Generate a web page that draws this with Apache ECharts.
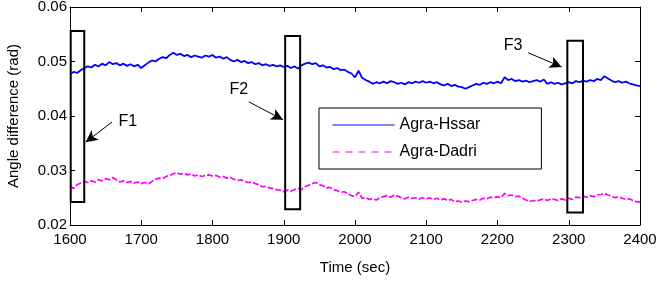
<!DOCTYPE html>
<html>
<head>
<meta charset="utf-8">
<script src="https://cdn.jsdelivr.net/npm/echarts@6/dist/echarts.min.js"></script>
<style>
html, body { margin: 0; padding: 0; background: #fff; }
#main { width: 660px; height: 281px; }
</style>
</head>
<body>
<div id="main"></div>
<script>
// time axis: one sample every 5 s
var timeStart = 1600;
var timeStep = 5;
var xTicks = [1600, 1700, 1800, 1900, 2000, 2100, 2200, 2300, 2400];
var yTicks = [0.02, 0.03, 0.04, 0.05, 0.06];

var agraHssar = [
	0.0476, 0.0481, 0.0479, 0.0484, 0.0488, 0.0491, 0.0489, 0.0494, 0.0491, 0.0496,
	0.0493, 0.0499, 0.0495, 0.0497, 0.0493, 0.0496, 0.0492, 0.0495, 0.0491, 0.0494,
	0.0488, 0.0493, 0.0498, 0.0502, 0.0500, 0.0505, 0.0508, 0.0506, 0.0512, 0.0516,
	0.0512, 0.0514, 0.0510, 0.0512, 0.0508, 0.0511, 0.0509, 0.0507, 0.0511, 0.0509,
	0.0512, 0.0507, 0.0509, 0.0505, 0.0508, 0.0503, 0.0500, 0.0503, 0.0499, 0.0501,
	0.0497, 0.0499, 0.0495, 0.0497, 0.0493, 0.0495, 0.0492, 0.0494, 0.0491, 0.0493,
	0.0490, 0.0492, 0.0488, 0.0491, 0.0487, 0.0493, 0.0496, 0.0498, 0.0495, 0.0497,
	0.0491, 0.0493, 0.0489, 0.0490, 0.0486, 0.0488, 0.0484, 0.0485, 0.0481, 0.0478,
	0.0471, 0.0483, 0.0470, 0.0466, 0.0463, 0.0459, 0.0462, 0.0460, 0.0463, 0.0460,
	0.0464, 0.0462, 0.0459, 0.0461, 0.0458, 0.0462, 0.0460, 0.0463, 0.0461, 0.0464,
	0.0461, 0.0463, 0.0460, 0.0462, 0.0458, 0.0456, 0.0459, 0.0455, 0.0457, 0.0454,
	0.0453, 0.0450, 0.0453, 0.0456, 0.0459, 0.0457, 0.0461, 0.0459, 0.0462, 0.0460,
	0.0463, 0.0460, 0.0471, 0.0466, 0.0468, 0.0464, 0.0466, 0.0463, 0.0465, 0.0462,
	0.0464, 0.0466, 0.0463, 0.0467, 0.0459, 0.0462, 0.0459, 0.0461, 0.0458, 0.0460,
	0.0462, 0.0460, 0.0464, 0.0462, 0.0465, 0.0463, 0.0466, 0.0464, 0.0468, 0.0466,
	0.0473, 0.0469, 0.0465, 0.0462, 0.0464, 0.0461, 0.0463, 0.0460, 0.0458, 0.0456,
	0.0455
];

var agraDadri = [
	0.0272, 0.0267, 0.0274, 0.0277, 0.0280, 0.0278, 0.0281, 0.0279, 0.0283, 0.0281,
	0.0285, 0.0283, 0.0287, 0.0283, 0.0279, 0.0281, 0.0278, 0.0280, 0.0277, 0.0279,
	0.0276, 0.0278, 0.0275, 0.0280, 0.0284, 0.0286, 0.0285, 0.0289, 0.0291, 0.0294,
	0.0296, 0.0293, 0.0295, 0.0292, 0.0294, 0.0290, 0.0292, 0.0289, 0.0291, 0.0292,
	0.0290, 0.0291, 0.0288, 0.0289, 0.0286, 0.0287, 0.0284, 0.0282, 0.0283, 0.0280,
	0.0278, 0.0279, 0.0276, 0.0274, 0.0270, 0.0271, 0.0268, 0.0267, 0.0265, 0.0264,
	0.0261, 0.0264, 0.0262, 0.0265, 0.0267, 0.0265, 0.0270, 0.0273, 0.0276, 0.0278,
	0.0274, 0.0272, 0.0268, 0.0269, 0.0265, 0.0263, 0.0260, 0.0261, 0.0257, 0.0254,
	0.0252, 0.0260, 0.0249, 0.0250, 0.0247, 0.0248, 0.0246, 0.0250, 0.0252, 0.0254,
	0.0251, 0.0255, 0.0253, 0.0250, 0.0248, 0.0251, 0.0249, 0.0250, 0.0248, 0.0250,
	0.0248, 0.0250, 0.0247, 0.0249, 0.0246, 0.0248, 0.0245, 0.0247, 0.0243, 0.0244,
	0.0242, 0.0244, 0.0243, 0.0245, 0.0247, 0.0246, 0.0249, 0.0248, 0.0251, 0.0250,
	0.0252, 0.0250, 0.0258, 0.0254, 0.0255, 0.0252, 0.0253, 0.0249, 0.0246, 0.0243,
	0.0245, 0.0244, 0.0246, 0.0248, 0.0245, 0.0248, 0.0247, 0.0245, 0.0248, 0.0246,
	0.0249, 0.0247, 0.0251, 0.0250, 0.0253, 0.0251, 0.0254, 0.0252, 0.0255, 0.0256,
	0.0258, 0.0255, 0.0253, 0.0250, 0.0252, 0.0249, 0.0247, 0.0248, 0.0245, 0.0243,
	0.0242
];

// fault windows F1..F3
var faultNames = ['F1', 'F2', 'F3'];
var boxStart = [1601, 1902, 2298];
var boxEnd = [1620, 1923, 2320];
var boxLow = [0.0242, 0.0229, 0.0223];
var boxHigh = [0.0556, 0.0547, 0.0538];
// label positions and arrows (tail -> head)
var labelAt = [[1681, 0.0389], [1837, 0.0448], [2222, 0.0530]];
var arrowFrom = [[1659, 0.0389], [1851, 0.0426], [2243, 0.0516]];
var arrowTo = [[1622, 0.0352], [1899, 0.0393], [2290, 0.0490]];

var font = "'Liberation Sans', Arial, sans-serif";

var hssarData = [];
var dadriData = [];
for (var i = 0; i < agraHssar.length; i++) {
	hssarData.push([timeStart + i * timeStep, agraHssar[i]]);
	dadriData.push([timeStart + i * timeStep, agraDadri[i]]);
}

var boxData = [];
for (var k = 0; k < boxStart.length; k++) {
	boxData.push([boxStart[k], boxEnd[k], boxLow[k], boxHigh[k]]);
}

var labelData = [];
var arrowData = [];
for (var k = 0; k < faultNames.length; k++) {
	labelData.push({ name: faultNames[k], value: labelAt[k] });
	arrowData.push([{ coord: arrowFrom[k] }, { coord: arrowTo[k] }]);
}

var myChart = echarts.init(document.getElementById('main'));

var tickAxis = {
	axisLine: { show: true, lineStyle: { color: '#000', width: 1 } },
	axisTick: { show: true, inside: true, length: 5, lineStyle: { color: '#000' } },
	splitLine: { show: false }
};

var option = {
	animation: false,
	backgroundColor: '#fff',
	grid: { left: 70, right: 20, top: 7, bottom: 56, outerBoundsMode: 'none' },
	legend: {
		data: [
			{ name: 'Agra-Hssar', lineStyle: { width: 1, type: 'solid' } },
			{ name: 'Agra-Dadri', lineStyle: { width: 1, type: [7, 6] } }
		],
		orient: 'vertical',
		left: 319,
		top: 108,
		padding: [9, 61, 9, 13],
		itemGap: 11,
		itemWidth: 62,
		itemHeight: 14,
		itemStyle: { opacity: 0 },
		borderColor: '#000',
		borderWidth: 1,
		borderRadius: 0,
		backgroundColor: '#fff',
		textStyle: { color: '#000', fontSize: 16, fontFamily: font }
	},
	xAxis: [
		Object.assign({
			type: 'value',
			min: 1600,
			max: 2400,
			interval: 100,
			name: 'Time (sec)',
			nameLocation: 'middle',
			nameGap: 35,
			nameTextStyle: { color: '#000', fontSize: 15, fontFamily: font },
			axisLabel: {
				color: '#000', fontSize: 15, fontFamily: font, margin: 7,
				formatter: function(v) { return String(v); }
			}
		}, tickAxis),
		Object.assign({
			type: 'value',
			position: 'top',
			min: 1600,
			max: 2400,
			interval: 100,
			axisLabel: { show: false }
		}, tickAxis)
	],
	yAxis: [
		Object.assign({
			type: 'value',
			min: 0.02,
			max: 0.06,
			interval: 0.01,
			name: 'Angle difference (rad)',
			nameLocation: 'middle',
			nameGap: 49,
			nameTextStyle: { color: '#000', fontSize: 15, fontFamily: font },
			axisLabel: {
				color: '#000', fontSize: 15, fontFamily: font, margin: 3,
				formatter: function(v) { return v.toFixed(2); }
			}
		}, tickAxis),
		Object.assign({
			type: 'value',
			position: 'right',
			min: 0.02,
			max: 0.06,
			interval: 0.01,
			axisLabel: { show: false }
		}, tickAxis)
	],
	series: [{
		name: 'Agra-Hssar',
		type: 'line',
		data: hssarData,
		showSymbol: false,
		symbol: 'none',
		lineStyle: { color: '#0000ff', width: 1.8 },
		itemStyle: { color: '#0000ff' },
		z: 3
	}, {
		name: 'Agra-Dadri',
		type: 'line',
		data: dadriData,
		showSymbol: false,
		symbol: 'none',
		lineStyle: { color: '#ff00ff', width: 1.7, type: [6, 2] },
		itemStyle: { color: '#ff00ff' },
		z: 3
	}, {
		name: 'boxes',
		type: 'custom',
		data: boxData,
		z: 4,
		renderItem: function(params, api) {
			var p1 = api.coord([api.value(0), api.value(3)]);
			var p2 = api.coord([api.value(1), api.value(2)]);
			return {
				type: 'rect',
				shape: { x: p1[0], y: p1[1], width: p2[0] - p1[0], height: p2[1] - p1[1] },
				style: { fill: null, stroke: '#000', lineWidth: 2 }
			};
		}
	}, {
		name: 'labels',
		type: 'custom',
		data: labelData,
		z: 5,
		renderItem: function(params, api) {
			var p = api.coord([api.value(0), api.value(1)]);
			return {
				type: 'text',
				x: p[0],
				y: p[1],
				style: {
					text: faultNames[params.dataIndex],
					fill: '#000',
					font: '16px ' + font,
					align: 'center',
					verticalAlign: 'middle'
				}
			};
		},
		markLine: {
			silent: true,
			symbol: ['none', 'arrow'],
			symbolSize: [9, 12],
			label: { show: false },
			lineStyle: { color: '#000', width: 1, type: 'solid' },
			data: arrowData
		}
	}]
};
myChart.setOption(option);
</script>
</body>
</html>
